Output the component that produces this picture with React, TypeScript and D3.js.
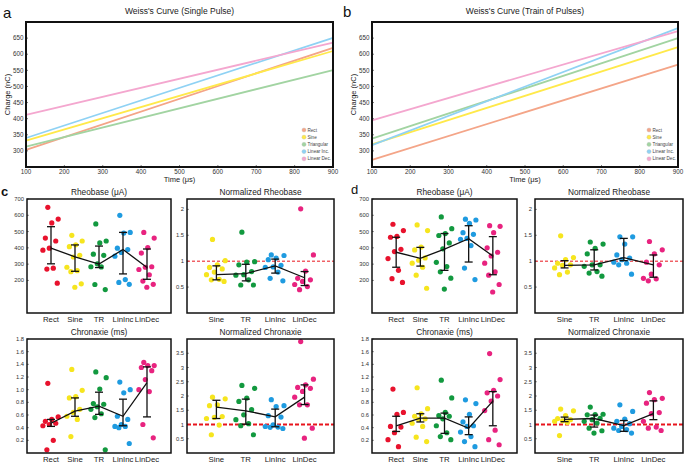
import React from 'react';
import * as d3 from 'd3';

const FONT = '"Liberation Sans", Arial, sans-serif';

// Weiss's curve panels
const pulseNames = ['Rect', 'Sine', 'Triangular', 'Linear Inc.', 'Linear Dec.'];
const pulseColors = ['#f4a588', '#ffe94a', '#a2d4a2', '#8fd2f4', '#f4a7cf'];
const timeTicks = [100, 200, 300, 400, 500, 600, 700, 800, 900];
const chargeTicks = [300, 350, 400, 450, 500, 550, 600, 650];
const singleAt100 = [303, 332, 313, 340, 412];
const singleAt900 = [620, 610, 551, 651, 636];
const trainAt100 = [272, 320, 338, 318, 395];
const trainAt900 = [568, 622, 650, 681, 672];

// dot plots
const groupsAll = ['Rect', 'Sine', 'TR', 'LinInc', 'LinDec'];
const groupsNorm = ['Sine', 'TR', 'LinInc', 'LinDec'];
const dotColors = ['#e8122d', '#f6e51e', '#12993f', '#1f9be0', '#e8237f'];

const rheoTicks = [200, 300, 400, 500, 600, 700];
const normRheoTicks = [0.5, 1, 1.5, 2];
const chronTicks = [0.2, 0.4, 0.6, 0.8, 1.0, 1.2, 1.4, 1.6, 1.8];
const normChronTicks = [0.5, 1, 1.5, 2, 2.5, 3, 3.5];

// c: single pulse
const cRheoPts = [
  [649, 577, 553, 460, 442, 398, 386, 275, 270, 183],
  [477, 442, 419, 407, 354, 344, 281, 260, 254, 179, 158],
  [547, 442, 430, 361, 354, 302, 284, 283, 175, 144],
  [600, 495, 491, 398, 390, 372, 349, 205, 188, 176],
  [495, 460, 402, 368, 284, 281, 267, 235, 196, 176, 158],
];
const cRheoMean = [398, 345, 300, 390, 280];
const cRheoLo = [302, 256, 279, 240, 207];
const cRheoHi = [530, 418, 411, 495, 393];

const cNormRheoPts = [
  [1.42, 1.01, 0.93, 0.88, 0.85, 0.79, 0.74, 0.65, 0.64, 0.61],
  [1.56, 0.99, 0.98, 0.93, 0.8, 0.74, 0.73, 0.64, 0.54, 0.54],
  [1.12, 1.11, 1.06, 1.03, 0.92, 0.89, 0.88, 0.79, 0.67, 0.62],
  [2.01, 1.12, 0.81, 0.67, 0.64, 0.61, 0.55, 0.51, 0.45],
];
const cNormRheoMean = [0.74, 0.76, 0.91, 0.68];
const cNormRheoLo = [0.64, 0.62, 0.77, 0.53];
const cNormRheoHi = [0.91, 0.94, 1.04, 0.8];

const cChronPts = [
  [1.1, 0.57, 0.53, 0.5, 0.47, 0.45, 0.43, 0.2, 0.05],
  [1.32, 0.99, 0.89, 0.87, 0.69, 0.64, 0.58, 0.53, 0.26],
  [1.28, 1.19, 1.01, 0.78, 0.77, 0.73, 0.69, 0.62, 0.56, 0.05],
  [1.12, 1.0, 0.95, 0.58, 0.53, 0.45, 0.42, 0.42, 0.4, 0.15],
  [1.43, 1.38, 1.38, 1.35, 1.3, 1.16, 1.0, 0.97, 0.45, 0.24],
];
const cChronMean = [0.47, 0.66, 0.74, 0.58, 1.11];
const cChronLo = [0.42, 0.58, 0.61, 0.43, 0.57];
const cChronHi = [0.53, 0.87, 0.96, 0.85, 1.36];

const cNormChronPts = [
  [1.96, 1.9, 1.69, 1.66, 1.28, 1.25, 1.21, 0.98, 0.64],
  [2.37, 2.27, 1.93, 1.81, 1.52, 1.34, 1.17, 1.03, 0.96, 0.64],
  [1.87, 1.66, 1.63, 1.31, 1.26, 0.99, 0.93, 0.91, 0.9, 0.86],
  [3.91, 2.59, 2.39, 2.3, 2.27, 2.16, 1.96, 1.69, 1.69, 0.87, 0.52],
];
const cNormChronMean = [1.61, 1.48, 1.27, 1.96];
const cNormChronLo = [1.21, 1.01, 0.92, 1.7];
const cNormChronHi = [1.85, 1.89, 1.54, 2.39];

// d: train of pulses
const dRheoPts = [
  [545, 506, 470, 465, 391, 377, 334, 262, 211, 188],
  [541, 506, 405, 387, 338, 324, 306, 281, 232, 152],
  [590, 518, 488, 476, 430, 394, 311, 285, 253, 214, 147],
  [576, 571, 550, 493, 483, 458, 453, 414, 276, 205],
  [536, 532, 493, 400, 373, 350, 306, 253, 232, 175, 129],
];
const dRheoMean = [373, 336, 392, 456, 350];
const dRheoLo = [281, 288, 262, 313, 235];
const dRheoHi = [465, 403, 488, 536, 469];

const dNormRheoPts = [
  [1.49, 1.07, 1.03, 0.96, 0.93, 0.92, 0.87, 0.79, 0.74],
  [1.37, 1.33, 1.25, 1.14, 0.93, 0.93, 0.9, 0.8, 0.77, 0.71],
  [1.47, 1.47, 1.33, 1.12, 1.06, 1.03, 0.98, 0.96, 0.93, 0.75],
  [1.38, 1.22, 1.14, 0.98, 0.93, 0.75, 0.67, 0.66, 0.62],
];
const dNormRheoMean = [0.92, 0.93, 1.07, 0.93];
const dNormRheoLo = [0.87, 0.83, 1.01, 0.69];
const dNormRheoHi = [1.01, 1.22, 1.44, 1.12];

const dChronPts = [
  [1.01, 0.64, 0.61, 0.42, 0.41, 0.32, 0.21, 0.1],
  [1.03, 0.7, 0.62, 0.58, 0.54, 0.53, 0.47, 0.42, 0.25, 0.18],
  [1.15, 0.87, 0.64, 0.59, 0.58, 0.54, 0.43, 0.32, 0.26, 0.21],
  [0.84, 0.78, 0.61, 0.49, 0.43, 0.42, 0.33, 0.26, 0.18, 0.1],
  [1.57, 1.16, 0.99, 0.95, 0.9, 0.82, 0.67, 0.36, 0.21, 0.13],
];
const dChronMean = [0.43, 0.55, 0.55, 0.39, 0.82];
const dChronLo = [0.34, 0.49, 0.31, 0.29, 0.43];
const dChronHi = [0.58, 0.62, 0.63, 0.57, 0.97];

const dNormChronPts = [
  [1.54, 1.48, 1.31, 1.21, 1.17, 1.13, 1.11, 1.07, 0.61],
  [1.61, 1.36, 1.35, 1.34, 1.22, 1.17, 1.11, 1.05, 0.87, 0.78, 0.7],
  [1.69, 1.46, 1.19, 1.11, 1.03, 0.93, 0.87, 0.82, 0.79, 0.7],
  [2.12, 1.92, 1.87, 1.75, 1.42, 1.38, 1.11, 0.91, 0.87, 0.79],
];
const dNormChronMean = [1.18, 1.21, 0.96, 1.38];
const dNormChronLo = [1.1, 0.91, 0.76, 1.17];
const dNormChronHi = [1.26, 1.33, 1.14, 1.83];

// deterministic horizontal spread of the dots (in category units)
const jitter = (i: number) => (((i * 0.618034 + 0.31) % 1) - 0.5) * 0.7;

interface WeissProps {
  x0: number; x1: number; y0: number; y1: number;
  title: string; start: number[]; end: number[];
}

const WeissPanel = ({ x0, x1, y0, y1, title, start, end }: WeissProps) => {
  const x = d3.scaleLinear().domain([100, 900]).range([x0, x1]);
  const y = d3.scaleLinear().domain([250, 700]).range([y1, y0]);
  const line = d3.line<[number, number]>().x(d => x(d[0])).y(d => y(d[1]));
  const t0 = timeTicks[0];
  const t1 = timeTicks[timeTicks.length - 1];
  return (
    <g fontFamily={FONT}>
      <text x={(x0 + x1) / 2} y={y0 - 8} fontSize={8.5} textAnchor="middle" fill="#222">{title}</text>
      {pulseNames.map((n, i) => (
        <path key={n} d={line([[t0, start[i]], [t1, end[i]]]) || ''} stroke={pulseColors[i]} strokeWidth={1.8} fill="none" />
      ))}
      {timeTicks.map(t => (
        <g key={t}>
          <line x1={x(t)} x2={x(t)} y1={y1} y2={y1 - 2} stroke="#222" strokeWidth={0.6} />
          <text x={x(t)} y={y1 + 7} fontSize={6.3} textAnchor="middle" fill="#333">{t}</text>
        </g>
      ))}
      {chargeTicks.map(v => (
        <g key={v}>
          <line x1={x0} x2={x0 + 2} y1={y(v)} y2={y(v)} stroke="#222" strokeWidth={0.6} />
          <text x={x0 - 2.5} y={y(v) + 2.2} fontSize={6.3} textAnchor="end" fill="#333">{v}</text>
        </g>
      ))}
      <text x={(x0 + x1) / 2} y={y1 + 15} fontSize={7.5} textAnchor="middle" fill="#222">Time (μs)</text>
      <text transform={`translate(${x0 - 16},${(y0 + y1) / 2}) rotate(-90)`} fontSize={7.5} textAnchor="middle" fill="#222">Charge (nC)</text>
      {pulseNames.map((n, i) => (
        <g key={n}>
          <circle cx={x1 - 29} cy={y1 - 37 + i * 7.2} r={2.1} fill={pulseColors[i]} stroke="#bbb" strokeWidth={0.3} />
          <text x={x1 - 25.5} y={y1 - 35.4 + i * 7.2} fontSize={4.6} fill="#444">{n}</text>
        </g>
      ))}
      <rect x={x0} y={y0} width={x1 - x0} height={y1 - y0} fill="none" stroke="#111" strokeWidth={2} />
    </g>
  );
};

interface DotProps {
  x0: number; x1: number; y0: number; y1: number;
  title: string; groups: string[]; colors: string[];
  pts: number[][]; mean: number[]; lo: number[]; hi: number[];
  yMax: number; ticks: number[]; fmt: (v: number) => string;
  xMax: number; ref?: number;
}

const DotPanel = (p: DotProps) => {
  const { x0, x1, y0, y1, groups, colors } = p;
  const x = d3.scaleLinear().domain([0, p.xMax]).range([x0, x1]);
  const y = d3.scaleLinear().domain([0, p.yMax]).range([y1, y0]);
  const meanLine = d3.line<number>().x((_, i) => x(i + 1)).y(d => y(d));
  return (
    <g fontFamily={FONT}>
      <text x={(x0 + x1) / 2} y={y0 - 4.5} fontSize={8.3} textAnchor="middle" fill="#222">{p.title}</text>
      {p.ticks.map(v => (
        <g key={v}>
          <line x1={x0} x2={x0 + 1.8} y1={y(v)} y2={y(v)} stroke="#222" strokeWidth={0.6} />
          <text x={x0 - 3} y={y(v) + 2} fontSize={5.8} textAnchor="end" fill="#333">{p.fmt(v)}</text>
        </g>
      ))}
      {p.ref !== undefined && (
        <line x1={x0} x2={x1} y1={y(1)} y2={y(1)} stroke="#e8141c" strokeWidth={p.ref}
          strokeDasharray={p.ref > 1.2 ? '4,2' : '3,2'} />
      )}
      {p.pts.map((arr, g) =>
        arr.map((v, i) => (
          <circle key={`${g}-${i}`} cx={x(g + 1 + jitter(i))} cy={y(v)} r={2.6} fill={colors[g]} />
        ))
      )}
      <path d={meanLine(p.mean) || ''} stroke="#111" strokeWidth={1.3} fill="none" />
      {groups.map((name, g) => (
        <g key={name} stroke="#111" strokeWidth={1.3}>
          <line x1={x(g + 1)} x2={x(g + 1)} y1={y(p.lo[g])} y2={y(p.hi[g])} />
          <line x1={x(g + 1) - 4} x2={x(g + 1) + 4} y1={y(p.lo[g])} y2={y(p.lo[g])} />
          <line x1={x(g + 1) - 4} x2={x(g + 1) + 4} y1={y(p.hi[g])} y2={y(p.hi[g])} />
        </g>
      ))}
      {groups.map((name, g) => (
        <text key={name} x={x(g + 1)} y={y1 + 9} fontSize={7.8} textAnchor="middle" fill="#222">{name}</text>
      ))}
      <rect x={x0} y={y0} width={x1 - x0} height={y1 - y0} fill="none" stroke="#111" strokeWidth={1.5} />
    </g>
  );
};

const fmtInt = (v: number) => String(v);
const fmt1 = d3.format('.1f');

const App = () => {
  const colorsNorm = dotColors.slice(1);
  return (
    <div style={{ position: 'absolute', left: 0, top: 0 }}>
      <svg width={685} height={465} style={{ display: 'block', background: '#fff' }}>
        <text x={3} y={18} fontSize={15} fontFamily={FONT} fill="#111">a</text>
        <text x={343} y={17} fontSize={15} fontFamily={FONT} fill="#111">b</text>
        <text x={1} y={196} fontSize={13} fontWeight="bold" fontFamily={FONT} fill="#111">c</text>
        <text x={351} y={194} fontSize={13} fontFamily={FONT} fill="#111">d</text>

        <WeissPanel x0={26} x1={333} y0={22} y1={167} title="Weiss's Curve (Single Pulse)" start={singleAt100} end={singleAt900} />
        <WeissPanel x0={372} x1={678} y0={22} y1={167} title="Weiss's Curve (Train of Pulses)" start={trainAt100} end={trainAt900} />

        <DotPanel x0={27} x1={171} y0={199} y1={313} title="Rheobase (μA)" groups={groupsAll} colors={dotColors}
          pts={cRheoPts} mean={cRheoMean} lo={cRheoLo} hi={cRheoHi} yMax={700} ticks={rheoTicks} fmt={fmtInt} xMax={6} />
        <DotPanel x0={187} x1={334} y0={199} y1={313} title="Normalized Rheobase" groups={groupsNorm} colors={colorsNorm}
          pts={cNormRheoPts} mean={cNormRheoMean} lo={cNormRheoLo} hi={cNormRheoHi} yMax={2.2} ticks={normRheoTicks} fmt={fmtInt} xMax={5} ref={1} />
        <DotPanel x0={27} x1={171} y0={339} y1={453} title="Chronaxie (ms)" groups={groupsAll} colors={dotColors}
          pts={cChronPts} mean={cChronMean} lo={cChronLo} hi={cChronHi} yMax={1.8} ticks={chronTicks} fmt={fmt1} xMax={6} />
        <DotPanel x0={187} x1={334} y0={339} y1={453} title="Normalized Chronaxie" groups={groupsNorm} colors={colorsNorm}
          pts={cNormChronPts} mean={cNormChronMean} lo={cNormChronLo} hi={cNormChronHi} yMax={4} ticks={normChronTicks} fmt={fmtInt} xMax={5} ref={2} />

        <DotPanel x0={372} x1={517} y0={199} y1={313} title="Rheobase (μA)" groups={groupsAll} colors={dotColors}
          pts={dRheoPts} mean={dRheoMean} lo={dRheoLo} hi={dRheoHi} yMax={700} ticks={rheoTicks} fmt={fmtInt} xMax={6} />
        <DotPanel x0={535} x1={683} y0={199} y1={313} title="Normalized Rheobase" groups={groupsNorm} colors={colorsNorm}
          pts={dNormRheoPts} mean={dNormRheoMean} lo={dNormRheoLo} hi={dNormRheoHi} yMax={2.2} ticks={normRheoTicks} fmt={fmtInt} xMax={5} ref={1} />
        <DotPanel x0={372} x1={517} y0={339} y1={453} title="Chronaxie (ms)" groups={groupsAll} colors={dotColors}
          pts={dChronPts} mean={dChronMean} lo={dChronLo} hi={dChronHi} yMax={1.8} ticks={chronTicks} fmt={fmt1} xMax={6} />
        <DotPanel x0={535} x1={683} y0={339} y1={453} title="Normalized Chronaxie" groups={groupsNorm} colors={colorsNorm}
          pts={dNormChronPts} mean={dNormChronMean} lo={dNormChronLo} hi={dNormChronHi} yMax={4} ticks={normChronTicks} fmt={fmtInt} xMax={5} ref={2} />
      </svg>
    </div>
  );
};

export default App;
